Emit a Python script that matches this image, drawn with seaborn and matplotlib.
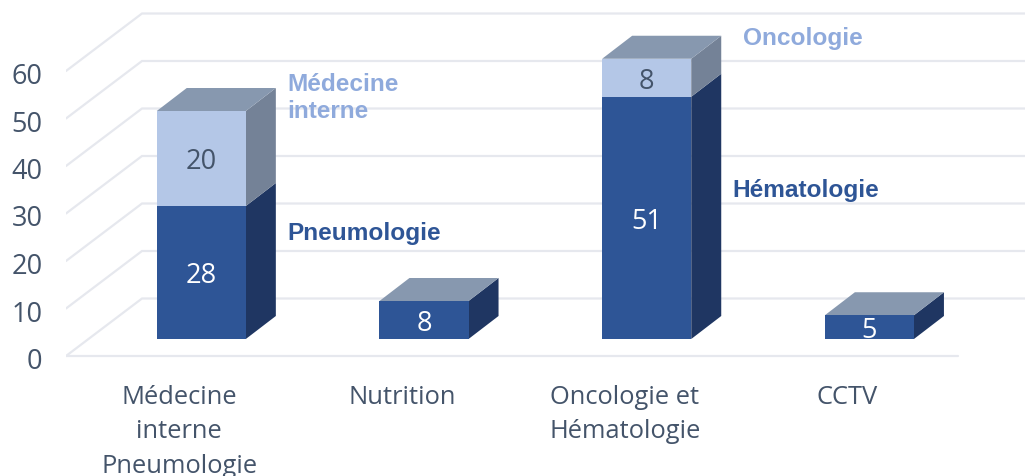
import matplotlib
matplotlib.use('Agg')
import matplotlib.pyplot as plt
from matplotlib.patches import Polygon
import seaborn as sns

# chart values
categories = ['Médecine\ninterne\nPneumologie', 'Nutrition', 'Oncologie et\nHématologie', 'CCTV']
lower_values = [28, 8, 51, 5]
upper_values = [20, 0, 8, 0]
y_ticks = [0, 10, 20, 30, 40, 50, 60]
lower_name = 'Pneumologie'
upper_name = 'Médecine\ninterne'
lower_name2 = 'Hématologie'
upper_name2 = 'Oncologie'

# colours
DARK = '#2E5596'
DARK_SIDE = '#1F3662'
LIGHT = '#B4C7E7'
LIGHT_SIDE = '#748297'
TOP = '#8798AF'
GRID = '#E6E8EE'
TEXT = '#44546A'
LABEL_LIGHT = '#8FAADC'

# scale of the picture in pixels
W, H = 1025, 477
PX_X = 222.7        # pixels per category
PX_Y = 4.75         # pixels per unit
FIRST_BAR = 201.3   # pixel of the first bar centre
BASE = 340          # pixel of value 0 on the bars
FLOOR = 357         # pixel of the front of the floor
AX_BOTTOM = 361     # axes run a little below the floor so the 0 tick label stays in range
LEFT = 66
BAR_DX, BAR_DY = 30 / PX_X, 23 / PX_Y
WALL_DX, WALL_DY = 76 / PX_X, 57.5 / PX_Y
FLOOR_SHIFT = (FLOOR - BASE) / PX_Y
TICK_SHIFT = (FLOOR + 1.5 - BASE) / PX_Y
LABEL_SHIFT = 22 / PX_X

sns.set_style('white')
plt.rcParams['font.family'] = ['Open Sans', 'DejaVu Sans']

fig = plt.figure(figsize=(W / 100, H / 100), dpi=100)
ax = fig.add_axes([LEFT / W, (H - AX_BOTTOM) / H, (W - LEFT) / W, AX_BOTTOM / H])

sns.barplot(x=categories, y=lower_values, color=DARK, saturation=1, width=0.4, ax=ax, zorder=2, linewidth=0)
sns.barplot(x=categories, y=upper_values, bottom=lower_values, color=LIGHT, saturation=1, width=0.4,
            ax=ax, zorder=2, linewidth=0)

ax.set_xlim((LEFT - FIRST_BAR) / PX_X, (W - FIRST_BAR) / PX_X)
ax.set_ylim((BASE - AX_BOTTOM) / PX_Y, BASE / PX_Y)
ax.set_xticks([])
ax.set_yticks([])
sns.despine(ax=ax, left=True, bottom=True)

# gridlines: slanted on the left wall, then flat on the back wall
x_left = ax.get_xlim()[0]
x_right = ax.get_xlim()[1]
for v in y_ticks:
    y_front = v - FLOOR_SHIFT
    ax.plot([x_left, x_left + WALL_DX, x_right], [y_front, y_front + WALL_DY, y_front + WALL_DY],
            color=GRID, lw=1.6, zorder=0.5, solid_joinstyle='miter')
# front edge of the floor
ax.plot([x_left, (958 - FIRST_BAR) / PX_X], [-FLOOR_SHIFT, -FLOOR_SHIFT], color=GRID, lw=1.6, zorder=0.5)


def add_depth(bars, side_color):
    for bar in bars:
        if bar.get_height() == 0:
            continue
        x1 = bar.get_x() + bar.get_width()
        y0, y1 = bar.get_y(), bar.get_y() + bar.get_height()
        ax.add_patch(Polygon([(x1, y0), (x1 + BAR_DX, y0 + BAR_DY), (x1 + BAR_DX, y1 + BAR_DY), (x1, y1)],
                             facecolor=side_color, edgecolor='none', zorder=1.5))


lower_bars, upper_bars = ax.containers[0], ax.containers[1]
add_depth(lower_bars, DARK_SIDE)
add_depth(upper_bars, LIGHT_SIDE)

# top faces, on whichever segment is highest
for low, up in zip(lower_bars, upper_bars):
    bar = up if up.get_height() > 0 else low
    x0, x1 = bar.get_x(), bar.get_x() + bar.get_width()
    y1 = bar.get_y() + bar.get_height()
    ax.add_patch(Polygon([(x0, y1), (x1, y1), (x1 + BAR_DX, y1 + BAR_DY), (x0 + BAR_DX, y1 + BAR_DY)],
                         facecolor=TOP, edgecolor='none', zorder=1.5))

value_labels = ax.bar_label(lower_bars, labels=[str(v) for v in lower_values], label_type='center',
                            color='white', fontsize=19.5)
value_labels += ax.bar_label(upper_bars, labels=[str(v) if v else '' for v in upper_values], label_type='center',
                             color=TEXT, fontsize=19.5)
for lab in value_labels:
    lab.xyann = (0, -2)

# axis labels sit on the front of the floor, not on the bar plane
sec_y = ax.secondary_yaxis('left', functions=(lambda v: v + TICK_SHIFT, lambda v: v - TICK_SHIFT))
sec_y.set_yticks(y_ticks)
sec_y.tick_params(length=0, pad=17, labelsize=19.5, labelcolor=TEXT)
sec_y.spines['left'].set_visible(False)

sec_x = ax.secondary_xaxis('bottom', functions=(lambda v: v + LABEL_SHIFT, lambda v: v - LABEL_SHIFT))
sec_x.set_xticks(range(len(categories)), labels=categories)
sec_x.tick_params(length=0, pad=17, labelsize=18.4, labelcolor=TEXT)
sec_x.spines['bottom'].set_visible(False)
for lab in sec_x.get_xticklabels():
    lab.set_linespacing(1.5)

# series names next to the bars
names = [(upper_name, 0.388, lower_values[0] + upper_values[0] / 2 + 13, LABEL_LIGHT),
         (lower_name, 0.388, lower_values[0] / 2 + 8.4, DARK),
         (upper_name2, 2.432, lower_values[2] + upper_values[2] + 4.4, LABEL_LIGHT),
         (lower_name2, 2.385, lower_values[2] / 2 + 6, DARK)]
for text, x, y, color in names:
    ax.text(x, y, text, color=color, fontsize=17.6, fontweight='bold', family=['Liberation Sans'],
            va='center', ha='left', linespacing=1.22)

fig.savefig('out.png', dpi=100)
